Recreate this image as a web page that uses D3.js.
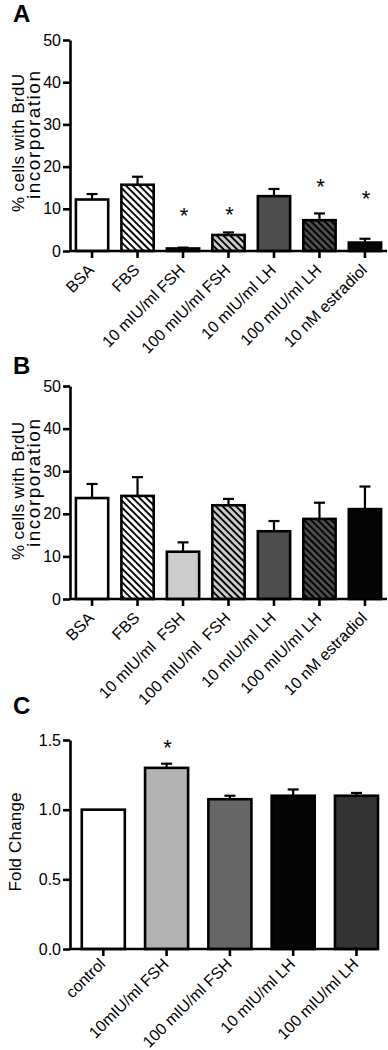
<!DOCTYPE html>
<html>
<head>
<meta charset="utf-8">
<script src="https://cdn.jsdelivr.net/npm/d3@7"></script>
<style>
body { margin: 0; background: #fff; }
text { font-family: "Liberation Sans", Arial, sans-serif; fill: #000; }
</style>
</head>
<body>
<div id="chart-area"></div>
<script>
// Panel A data
var labelsA = ["BSA", "FBS", "10 mIU/ml FSH", "100 mIU/ml FSH", "10 mIU/ml LH", "100 mIU/ml LH", "10 nM estradiol"];
var meanA = [12.2, 15.7, 0.6, 3.8, 13.0, 7.3, 2.0];
var errA = [1.3, 1.9, 0.2, 0.6, 1.7, 1.6, 0.9];
var starA = [null, null, 9.5, 9.7, null, 16.3, 13.5];

// Panel B data
var labelsB = ["BSA", "FBS", "10 mIU/ml  FSH", "100 mIU/ml  FSH", "10 mIU/ml LH", "100 mIU/ml LH", "10 nM estradiol"];
var meanB = [23.7, 24.2, 11.1, 22.0, 15.9, 18.8, 21.1];
var errB = [3.3, 4.4, 2.2, 1.5, 2.4, 3.8, 5.3];
var starB = [null, null, null, null, null, null, null];

// Panel C data
var labelsC = ["control", "10mIU/ml FSH", "100 mIU/ml FSH", "10 mIU/ml LH", "100 mIU/ml LH"];
var meanC = [1.0, 1.30, 1.075, 1.10, 1.10];
var errC = [0, 0.03, 0.025, 0.045, 0.02];
var starC = [null, 1.48, null, null, null];

var ticksAB = [0, 10, 20, 30, 40, 50];
var ticksC = [0.0, 0.5, 1.0, 1.5];

var fillsAB = ["#ffffff", "url(#hatch-white)", "#cccccc", "url(#hatch-light)", "#4d4d4d", "url(#hatch-dark)", "#050505"];
var fillsC = ["#ffffff", "#b3b3b3", "#666666", "#050505", "#333333"];

var svg = d3.select("#chart-area")
    .append("svg")
    .attr("width", 388)
    .attr("height", 1050);

// hatch patterns: black "\" stripes over a base colour
var defs = svg.append("defs");
[["hatch-white", "#ffffff"], ["hatch-light", "#cccccc"], ["hatch-dark", "#4d4d4d"]].forEach(function (p) {
    var pat = defs.append("pattern")
        .attr("id", p[0])
        .attr("patternUnits", "userSpaceOnUse")
        .attr("width", 4.8)
        .attr("height", 4.8)
        .attr("patternTransform", "rotate(-45)");
    pat.append("rect").attr("width", 4.8).attr("height", 4.8).attr("fill", p[1]);
    pat.append("line")
        .attr("x1", 1).attr("y1", 0).attr("x2", 1).attr("y2", 4.8)
        .attr("stroke", "#000").attr("stroke-width", 1.9);
});

function drawPanel(cfg) {
    var g = svg.append("g");

    var y = d3.scaleLinear()
        .domain([0, cfg.yMax])
        .range([cfg.zeroY, cfg.topY]);

    var x = d3.scaleBand()
        .domain(cfg.labels)
        .range(cfg.xRange)
        .paddingInner(cfg.padInner)
        .paddingOuter(cfg.padOuter)
        .align(cfg.align);

    var data = cfg.labels.map(function (l, i) {
        return { name: l, mean: cfg.means[i], err: cfg.errs[i], star: cfg.stars[i], fill: cfg.fills[i] };
    });

    // error bars (upper only)
    var eb = g.selectAll(".err")
        .data(data.filter(function (d) { return d.err > 0; }))
        .enter()
        .append("g")
        .attr("stroke", "#000")
        .attr("stroke-width", 2.2);
    eb.append("line")
        .attr("x1", function (d) { return x(d.name) + x.bandwidth() / 2; })
        .attr("x2", function (d) { return x(d.name) + x.bandwidth() / 2; })
        .attr("y1", function (d) { return y(d.mean); })
        .attr("y2", function (d) { return y(d.mean + d.err); });
    eb.append("line")
        .attr("x1", function (d) { return x(d.name) + x.bandwidth() / 2 - 5.5; })
        .attr("x2", function (d) { return x(d.name) + x.bandwidth() / 2 + 5.5; })
        .attr("y1", function (d) { return y(d.mean + d.err); })
        .attr("y2", function (d) { return y(d.mean + d.err); });

    // bars
    g.selectAll(".bar")
        .data(data)
        .enter()
        .append("rect")
        .attr("x", function (d) { return x(d.name); })
        .attr("y", function (d) { return y(d.mean); })
        .attr("width", x.bandwidth())
        .attr("height", function (d) { return cfg.zeroY - y(d.mean); })
        .attr("fill", function (d) { return d.fill; })
        .attr("stroke", "#000")
        .attr("stroke-width", 2.6);

    // significance stars
    g.selectAll(".star")
        .data(data.filter(function (d) { return d.star != null; }))
        .enter()
        .append("text")
        .attr("x", function (d) { return x(d.name) + x.bandwidth() / 2 + 1; })
        .attr("y", function (d) { return y(d.star) + 12; })
        .attr("text-anchor", "middle")
        .attr("font-size", "22px")
        .text("*");

    // y axis
    var yAxis = g.append("g")
        .attr("transform", "translate(" + cfg.axisX + ",0)")
        .call(d3.axisLeft(y).tickValues(cfg.ticks).tickFormat(cfg.tickFormat).tickSize(7).tickSizeOuter(0).tickPadding(2));
    yAxis.selectAll("text").attr("font-size", "16px").attr("fill", "#000");

    // x axis
    var xAxis = g.append("g")
        .attr("transform", "translate(0," + cfg.zeroY + ")")
        .call(d3.axisBottom(x).tickSize(7).tickSizeOuter(0));
    xAxis.selectAll("text")
        .attr("font-size", "16px")
        .attr("fill", "#000")
        .attr("x", 3)
        .attr("y", cfg.labelY)
        .attr("dy", null)
        .attr("text-anchor", "end")
        .style("white-space", "pre")
        .attr("transform", "rotate(-45,3," + cfg.labelY + ")");

    [yAxis, xAxis].forEach(function (a) {
        a.select(".domain").attr("stroke-width", 2.6).attr("stroke", "#000");
        a.selectAll(".tick line").attr("stroke-width", 2.6).attr("stroke", "#000");
    });
    xAxis.select(".domain").attr("d", "M" + cfg.axisX + ",0H" + cfg.xRange[1]);

    // y axis title
    cfg.yTitle.forEach(function (t) {
        g.append("text")
            .attr("transform", "translate(" + t.x + "," + t.cy + ") rotate(-90)")
            .attr("text-anchor", "middle")
            .attr("font-size", t.size + "px")
            .attr("textLength", t.len)
            .attr("lengthAdjust", "spacing")
            .text(t.text);
    });

    // panel letter
    g.append("text")
        .attr("x", 13)
        .attr("y", cfg.letterY)
        .attr("font-size", "24px")
        .attr("font-weight", "bold")
        .text(cfg.letter);
}

drawPanel({
    letter: "A", letterY: 22,
    labels: labelsA, means: meanA, errs: errA, stars: starA, fills: fillsAB,
    yMax: 50, ticks: ticksAB, tickFormat: d3.format("d"),
    zeroY: 251, topY: 40, axisX: 70, labelY: 20,
    xRange: [70, 387], padInner: 0.29, padOuter: 0.13, align: 0.5,
    yTitle: [
        { text: "% cells with BrdU", x: 24, cy: 143, size: 17, len: 138 },
        { text: "incorporation", x: 40, cy: 135, size: 19, len: 128 }
    ]
});

drawPanel({
    letter: "B", letterY: 374,
    labels: labelsB, means: meanB, errs: errB, stars: starB, fills: fillsAB,
    yMax: 50, ticks: ticksAB, tickFormat: d3.format("d"),
    zeroY: 599, topY: 386, axisX: 70, labelY: 20,
    xRange: [70, 387], padInner: 0.29, padOuter: 0.13, align: 0.5,
    yTitle: [
        { text: "% cells with BrdU", x: 24, cy: 491, size: 17, len: 138 },
        { text: "incorporation", x: 40, cy: 483, size: 19, len: 128 }
    ]
});

drawPanel({
    letter: "C", letterY: 714,
    labels: labelsC, means: meanC, errs: errC, stars: starC, fills: fillsC,
    yMax: 1.5, ticks: ticksC, tickFormat: d3.format(".1f"),
    zeroY: 949, topY: 740, axisX: 70, labelY: 16,
    xRange: [70, 378], padInner: 0.32, padOuter: 0.093, align: 1,
    yTitle: [
        { text: "Fold Change", x: 21, cy: 842, size: 17, len: 99 }
    ]
});
</script>
</body>
</html>
